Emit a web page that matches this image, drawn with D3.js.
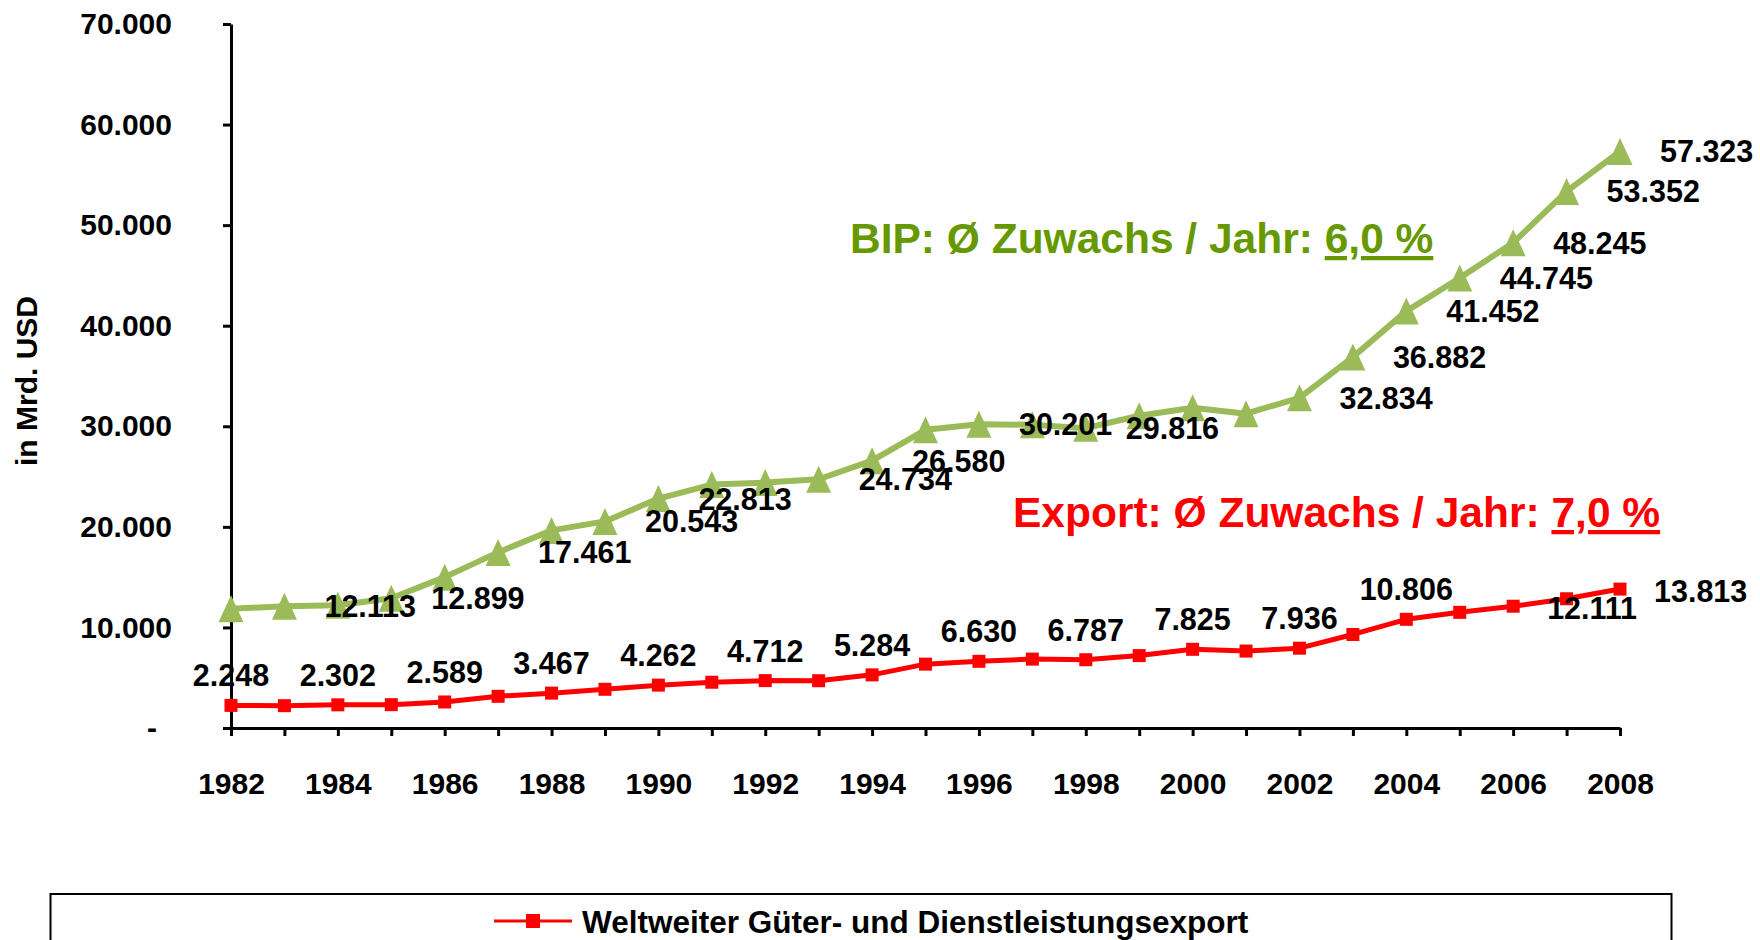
<!DOCTYPE html>
<html>

<head>
    <title>BIP und Export</title>
    <script src="https://d3js.org/d3.v7.min.js"></script>

    <style>
        body {
            margin: 0;
            background: #fff;
        }

        svg text {
            font-family: "Liberation Sans", Arial, sans-serif;
            font-weight: bold;
        }

        .axis .domain,
        .axis line {
            stroke: #000;
            stroke-width: 3;
        }

        .axis text {
            font-size: 30px;
            fill: #000;
            white-space: pre;
        }
    </style>
</head>

<body>
    <svg id="chart" height="940" width="1760"></svg>

    <script>
        // Werte in Mrd. USD
        const years = [1982, 1983, 1984, 1985, 1986, 1987, 1988, 1989, 1990, 1991, 1992, 1993, 1994, 1995,
            1996, 1997, 1998, 1999, 2000, 2001, 2002, 2003, 2004, 2005, 2006, 2007, 2008];
        const bip = [11850, 12113, 12200, 12899, 15000, 17461, 19650, 20543, 22813, 24200, 24400, 24734, 26580, 29650,
            30201, 30150, 29816, 31050, 31850, 31250, 32834, 36882, 41452, 44745, 48245, 53352, 57323];
        const exportWerte = [2248, 2220, 2302, 2320, 2589, 3150, 3467, 3850, 4262, 4550, 4712, 4700, 5284, 6350,
            6630, 6850, 6787, 7200, 7825, 7650, 7936, 9300, 10806, 11500, 12111, 12850, 13813];

        // welche Punkte eine Beschriftung haben
        const bipLabelYears = [1983, 1985, 1987, 1989, 1990, 1993, 1994, 1996, 1998, 2002, 2003, 2004, 2005, 2006, 2007, 2008];
        const exportLabelAbove = [1982, 1984, 1986, 1988, 1990, 1992, 1994, 1996, 1998, 2000, 2002, 2004];
        const exportLabelRight = [2006, 2008];

        const yTicks = [0, 10000, 20000, 30000, 40000, 50000, 60000, 70000];
        const xLabelYears = [1982, 1984, 1986, 1988, 1990, 1992, 1994, 1996, 1998, 2000, 2002, 2004, 2006, 2008];

        const legendText = "Weltweiter Güter- und Dienstleistungsexport";
        const yTitle = "in Mrd. USD";

        const green = "#9BBB59";
        const greenText = "#669900";
        const red = "#FF0000";

        const de = d3.formatLocale({ decimal: ",", thousands: ".", grouping: [3], currency: ["", " €"] });
        const fmt = de.format(",.0f");

        const svg = d3.select("#chart");
        const margin = { top: 24, right: 140, bottom: 212, left: 231 };
        const width = +svg.attr("width");
        const height = +svg.attr("height");

        const x = d3.scalePoint().domain(years).range([margin.left, width - margin.right]);
        const y = d3.scaleLinear().domain([0, 70000]).range([height - margin.bottom, margin.top]);

        const bipData = years.map((yr, i) => ({ year: yr, value: bip[i] }));
        const expData = years.map((yr, i) => ({ year: yr, value: exportWerte[i] }));

        // y axis
        svg.append("g")
            .attr("class", "axis y")
            .attr("transform", `translate(${margin.left},0)`)
            .call(d3.axisLeft(y).tickValues(yTicks).tickSize(8).tickSizeOuter(0).tickPadding(51)
                .tickFormat(d => d === 0 ? "-\u2002" : fmt(d)));

        // x axis
        svg.append("g")
            .attr("class", "axis x")
            .attr("transform", `translate(0,${y(0)})`)
            .call(d3.axisBottom(x).tickSize(8).tickSizeOuter(0).tickPadding(37)
                .tickFormat(d => xLabelYears.includes(d) ? d : ""));

        svg.append("text")
            .attr("transform", "translate(37,381) rotate(-90)")
            .attr("text-anchor", "middle")
            .style("font-size", "30px")
            .text(yTitle);

        const lineGen = d3.line()
            .x(d => x(d.year))
            .y(d => y(d.value));

        // BIP
        svg.append("path")
            .datum(bipData)
            .attr("fill", "none")
            .attr("stroke", green)
            .attr("stroke-width", 6)
            .attr("stroke-linejoin", "round")
            .attr("d", lineGen);

        svg.selectAll("path.tri").data(bipData)
            .join("path")
            .attr("class", "tri")
            .attr("fill", green)
            .attr("transform", d => `translate(${x(d.year)},${y(d.value)})`)
            .attr("d", "M0,-13.5L12.5,13.5L-12.5,13.5Z");

        // Export
        svg.append("path")
            .datum(expData)
            .attr("fill", "none")
            .attr("stroke", red)
            .attr("stroke-width", 5)
            .attr("stroke-linejoin", "round")
            .attr("d", lineGen);

        svg.selectAll("rect.sq").data(expData)
            .join("rect")
            .attr("class", "sq")
            .attr("fill", red)
            .attr("x", d => x(d.year) - 6.5)
            .attr("y", d => y(d.value) - 6.5)
            .attr("width", 13)
            .attr("height", 13);

        // Datenbeschriftungen
        svg.selectAll("text.bipLabel").data(bipData.filter(d => bipLabelYears.includes(d.year)))
            .join("text")
            .attr("class", "bipLabel")
            .attr("x", d => x(d.year) + 40)
            .attr("y", d => y(d.value))
            .attr("dy", "0.36em")
            .style("font-size", "30.5px")
            .text(d => fmt(d.value));

        svg.selectAll("text.expAbove").data(expData.filter(d => exportLabelAbove.includes(d.year)))
            .join("text")
            .attr("class", "expAbove")
            .attr("text-anchor", "middle")
            .attr("x", d => x(d.year))
            .attr("y", d => y(d.value) - 19)
            .style("font-size", "30.5px")
            .text(d => fmt(d.value));

        svg.selectAll("text.expRight").data(expData.filter(d => exportLabelRight.includes(d.year)))
            .join("text")
            .attr("class", "expRight")
            .attr("x", d => x(d.year) + 34)
            .attr("y", d => y(d.value) + 13)
            .style("font-size", "30.5px")
            .text(d => fmt(d.value));

        // Zuwachs-Texte
        const bipNote = svg.append("text")
            .attr("x", 850)
            .attr("y", 253)
            .attr("fill", greenText)
            .style("font-size", "42.5px");
        bipNote.append("tspan").text("BIP: Ø Zuwachs / Jahr: ");
        bipNote.append("tspan").style("text-decoration", "underline").text("6,0 %");

        const expNote = svg.append("text")
            .attr("x", 1013)
            .attr("y", 527)
            .attr("fill", red)
            .style("font-size", "42.5px");
        expNote.append("tspan").text("Export: Ø Zuwachs / Jahr: ");
        expNote.append("tspan").style("text-decoration", "underline").text("7,0 %");

        // Legende
        const legend = svg.append("g");
        legend.append("rect")
            .attr("x", 50.5)
            .attr("y", 894)
            .attr("width", 1621)
            .attr("height", 120)
            .attr("fill", "#fff")
            .attr("stroke", "#000")
            .attr("stroke-width", 2);
        legend.append("line")
            .attr("x1", 494).attr("x2", 572)
            .attr("y1", 921).attr("y2", 921)
            .attr("stroke", red)
            .attr("stroke-width", 3);
        legend.append("rect")
            .attr("x", 526).attr("y", 914)
            .attr("width", 14).attr("height", 14)
            .attr("fill", red);
        legend.append("text")
            .attr("x", 582)
            .attr("y", 933)
            .style("font-size", "31.5px")
            .text(legendText);
    </script>

</body>

</html>
